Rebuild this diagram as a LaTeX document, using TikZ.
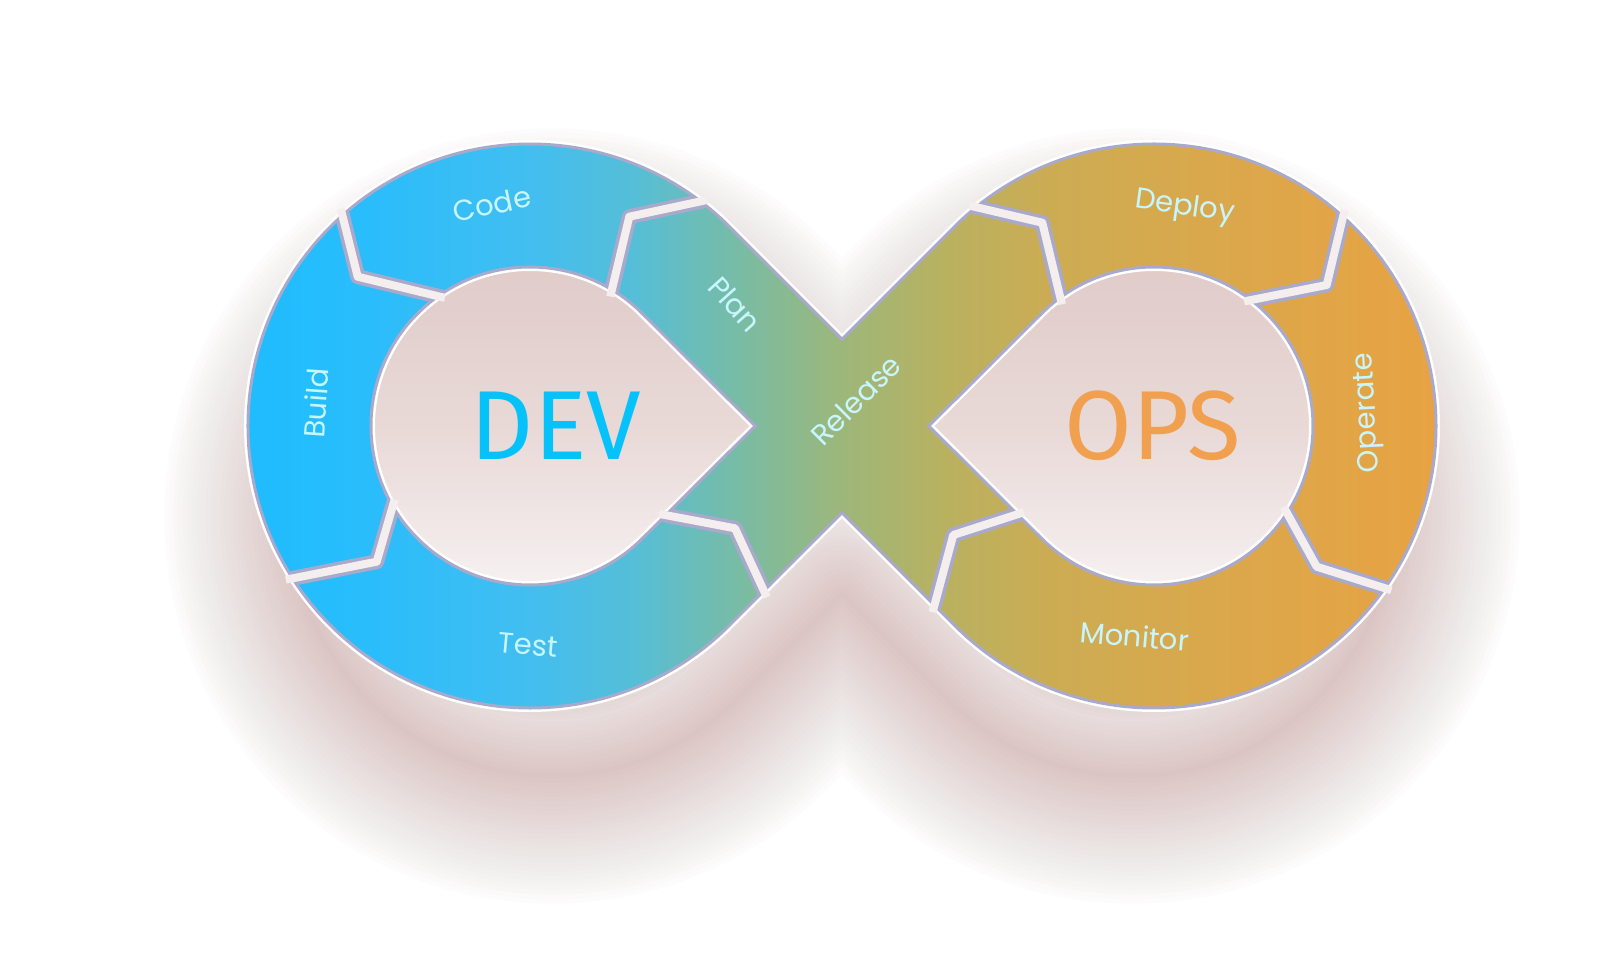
\documentclass[tikz,border=0pt]{standalone}
\usepackage{fontspec}
\newfontfamily\labfont{Poppins}
\newfontfamily\bigfont{Fira Sans}
\usetikzlibrary{calc}
\definecolor{s0}{HTML}{1CBCFF}
\definecolor{s1}{HTML}{2ABDFB}
\definecolor{s2}{HTML}{42BEF0}
\definecolor{s3}{HTML}{55BED8}
\definecolor{s4}{HTML}{78BCA5}
\definecolor{s5}{HTML}{9DB77A}
\definecolor{s6}{HTML}{B9B160}
\definecolor{s7}{HTML}{CCAC53}
\definecolor{s8}{HTML}{DAA84C}
\definecolor{s9}{HTML}{E9A242}
\definecolor{shad}{HTML}{B07C78}
\definecolor{rim}{HTML}{A9AACB}
\definecolor{gapc}{HTML}{F4EEEE}
\definecolor{labc}{HTML}{C8F6FF}
\definecolor{devc}{HTML}{05C3FA}
\definecolor{opsc}{HTML}{F0A04F}
\definecolor{holetop}{HTML}{E0CBC9}
\definecolor{holemid}{HTML}{E8D9D7}
\definecolor{holebot}{HTML}{F6F1F1}
\pgfdeclarehorizontalshading{ribbon}{100bp}{color(0bp)=(s0); color(25bp)=(s0); color(31.06bp)=(s1); color(37.37bp)=(s2); color(41.58bp)=(s3); color(45.79bp)=(s4); color(50bp)=(s5); color(54.21bp)=(s6); color(58.42bp)=(s7); color(64.73bp)=(s8); color(75bp)=(s9); color(100bp)=(s9)}
\pgfdeclareverticalshading{holeshade}{100bp}{color(0bp)=(holebot); color(25bp)=(holebot); color(50bp)=(holemid); color(75bp)=(holetop); color(100bp)=(holetop)}
\newcommand\infshape{(-112.6,199.4) arc[start angle=45,end angle=315,radius=282] -- (0,-86.8) -- (112.6,-199.4) arc[start angle=225,end angle=495,radius=282] -- (0,86.8) -- cycle (-199.57,112.43) arc[start angle=45,end angle=315,radius=159] -- (-86.8,0) -- cycle (199.57,112.43) arc[start angle=135,end angle=-135,radius=159] -- (86.8,0) -- cycle}
\newcommand\lefthole{(-199.57,112.43) arc[start angle=45,end angle=315,radius=159] -- (-86.8,0) -- cycle}
\newcommand\righthole{(199.57,112.43) arc[start angle=135,end angle=-135,radius=159] -- (86.8,0) -- cycle}
\begin{document}
\begin{tikzpicture}[x=1pt,y=1pt,
  lab/.style={font=\labfont\fontsize{29}{30}\selectfont, text=labc, inner sep=0pt},
  big/.style={font=\bigfont\fontsize{98}{100}\selectfont, inner sep=0pt},
  gapedge/.style={draw=rim, line width=15pt, line join=round, shorten <=-6pt, shorten >=-6pt},
  gapcore/.style={draw=gapc, line width=8pt, line join=round, shorten <=-7pt, shorten >=-7pt},
  shadowlayer/.style={draw=shad, opacity=0.017, line join=round}
]
\useasboundingbox (-842,-540) rectangle (756,426);
\fill[white] (-842,-540) rectangle (756,426);
% centres
\coordinate (L) at (-312,0);
\coordinate (R) at (312,0);
% joints (outer point, tip, inner point)
\coordinate (j1o) at ($(L)+(52.8:282)$);
\coordinate (j1v) at ($(L)+(99.3,209.3)$);
\coordinate (j1i) at ($(L)+(59:159)$);
\coordinate (j2o) at ($(L)+(131.7:282)$);
\coordinate (j2v) at ($(L)+(-172.3,149.3)$);
\coordinate (j2i) at ($(L)+(125.3:159)$);
\coordinate (j3o) at ($(L)+(212.7:282)$);
\coordinate (j3v) at ($(L)+(-153.3,-135.7)$);
\coordinate (j3i) at ($(L)+(210.3:159)$);
\coordinate (j4o) at (-78.1,-164.8);
\coordinate (j4v) at (-107,-102.3);
\coordinate (j4i) at (-176,-89.2);
\coordinate (j5o) at ($(R)+(129.1:282)$);
\coordinate (j5v) at ($(R)+(-111.7,203.3)$);
\coordinate (j5i) at ($(R)+(126.1:159)$);
\coordinate (j6o) at ($(R)+(47.9:282)$);
\coordinate (j6v) at ($(R)+(172.7,141)$);
\coordinate (j6i) at ($(R)+(52.4:159)$);
\coordinate (j7o) at ($(R)+(324.9:282)$);
\coordinate (j7v) at ($(R)+(162.7,-140.7)$);
\coordinate (j7i) at ($(R)+(326.8:159)$);
\coordinate (j8o) at (92.4,-179.4);
\coordinate (j8v) at (111.3,-109);
\coordinate (j8i) at (175.2,-88.4);
% soft shadow, shifted down and blurred
\begin{scope}[transform canvas={shift={(0pt,-90pt)}, scale=0.93}]
  \foreach \w in {270,260,...,10} {\draw[shadowlayer, line width=\w pt] \infshape;}
  \fill[shad, opacity=0.017, even odd rule] \infshape;
\end{scope}
% holes
\begin{scope}\clip \lefthole; \shade[shading=holeshade] (-475,-165) rectangle (-80,165); \end{scope}
\begin{scope}\clip \righthole; \shade[shading=holeshade] (80,-165) rectangle (475,165); \end{scope}
% ribbon
\draw[white, line width=8pt, line join=round] \infshape;
\shade[shading=ribbon, even odd rule] \infshape;
\draw[rim, line width=3pt] \infshape;
% gaps between the stages
\begin{scope}[even odd rule]
  \clip \infshape;
  \foreach \j in {1,...,8} {\draw[gapedge] (j\j o) -- (j\j v) -- (j\j i);}
\end{scope}
\foreach \j in {1,...,8} {\draw[gapcore] (j\j o) -- (j\j v) -- (j\j i);}
% labels
\node[lab, rotate=12] (code) at (-350,222) {Code};
\node[lab, rotate=86] (build) at (-526,23) {Build};
\node[lab, rotate=-5] (test) at (-314,-219) {Test};
\node[lab, rotate=-48] (plan) at (-107,122) {Plan};
\node[lab, rotate=45] (release) at (14,26) {Release};
\node[lab, rotate=-8] (deploy) at (342.6,218) {Deploy};
\node[lab, rotate=93] (operate) at (526.6,13.2) {Operate};
\node[lab, rotate=-5] (monitor) at (292.6,-209.9) {Monitor};
\node[big, text=devc] (dev) at (-286,0) {DEV};
\node[big, text=opsc] (ops) at (311,0) {OPS};
\end{tikzpicture}
\end{document}
